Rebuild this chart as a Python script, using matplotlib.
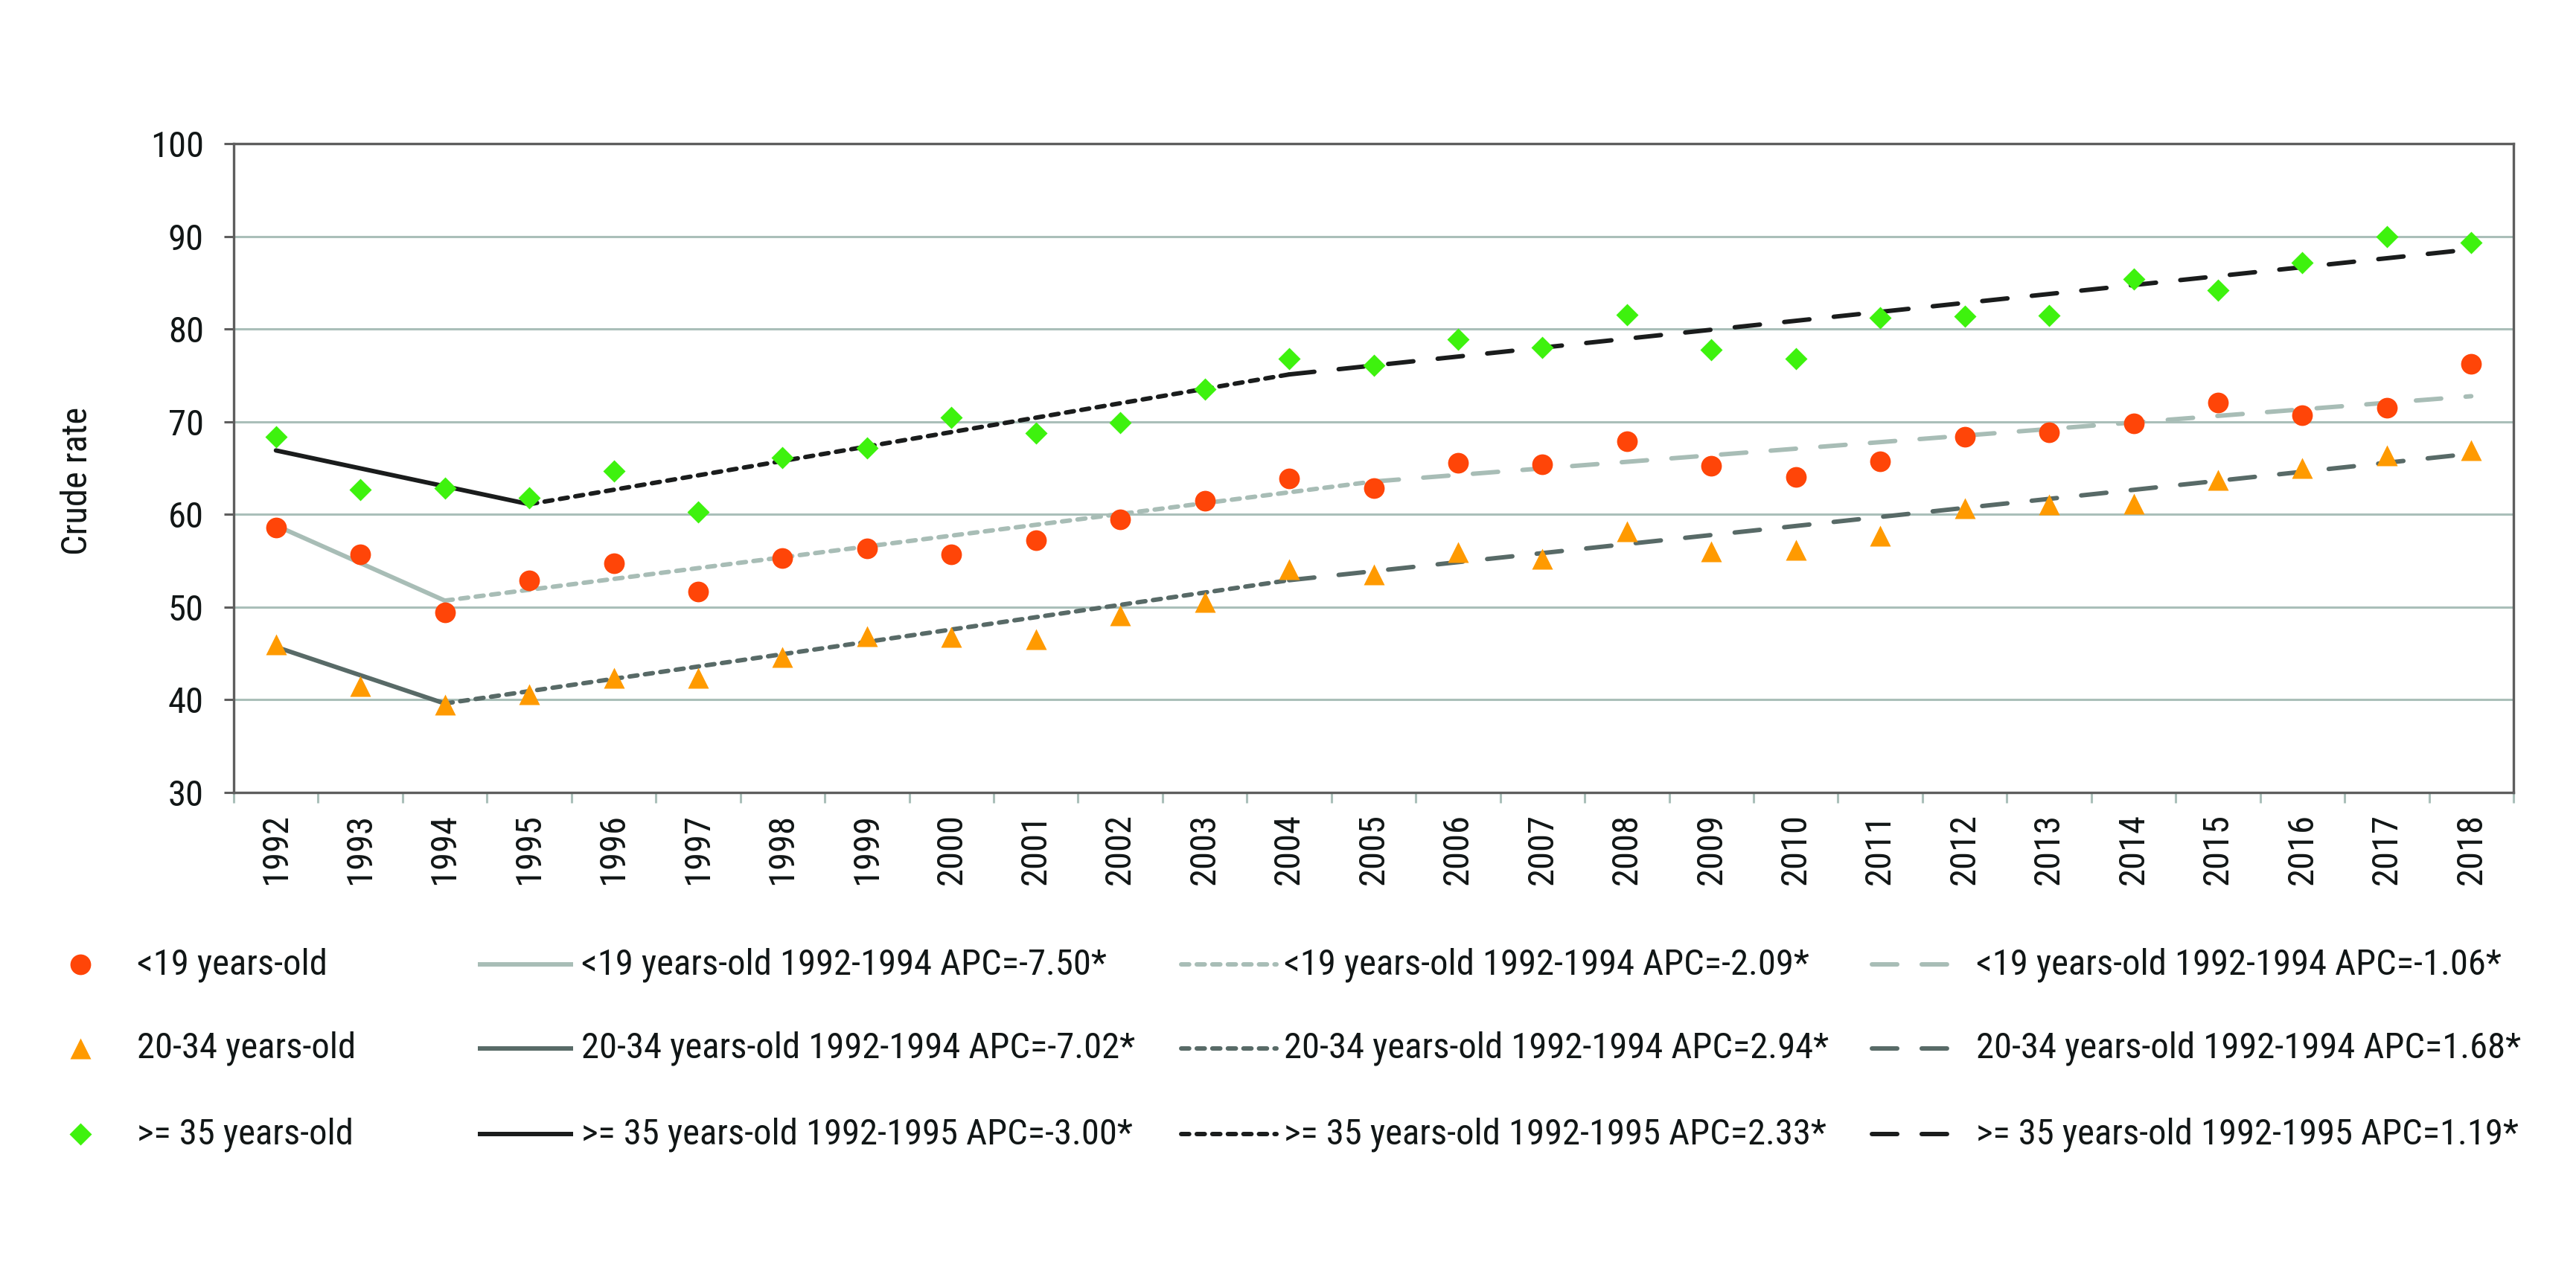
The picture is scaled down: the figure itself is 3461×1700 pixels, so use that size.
import matplotlib
matplotlib.use("Agg")
import matplotlib.pyplot as plt
from matplotlib import font_manager
from matplotlib.lines import Line2D
from matplotlib.ticker import MultipleLocator, FixedLocator

# ---------------- data ----------------
years = list(range(1992, 2019))
rate_lt19 = [58.6, 55.7, 49.4, 52.9, 54.7, 51.7, 55.3, 56.3, 55.7, 57.2, 59.45, 61.5, 63.9, 62.85,
             65.6, 65.4, 67.9, 65.25, 64.0, 65.7, 68.4, 68.85, 69.8, 72.1, 70.7, 71.5, 76.2]
rate_20_34 = [46.0, 41.45, 39.5, 40.6, 42.35, 42.35, 44.6, 46.85, 46.8, 46.55, 49.1, 50.55, 54.1, 53.5,
              55.9, 55.2, 58.2, 56.0, 56.2, 57.7, 60.7, 61.05, 61.15, 63.7, 65.0, 66.4, 66.9]
rate_ge35 = [68.4, 62.65, 62.8, 61.75, 64.7, 60.3, 66.1, 67.2, 70.45, 68.8, 69.9, 73.5, 76.8, 76.1,
             78.9, 78.0, 81.55, 77.8, 76.8, 81.2, 81.4, 81.45, 85.4, 84.2, 87.15, 90.0, 89.3]

# joinpoint trend segments: joinpoint years and fitted values
trend_lt19_years = [1992, 1994, 2005, 2018]
trend_lt19_vals = [58.8, 50.7, 63.55, 72.75]
trend_20_34_years = [1992, 1994, 2004, 2018]
trend_20_34_vals = [45.7, 39.6, 52.9, 66.55]
trend_ge35_years = [1992, 1995, 2004, 2018]
trend_ge35_vals = [66.9, 61.1, 75.1, 88.6]

series_labels = ["<19 years-old", "20-34 years-old", ">= 35 years-old"]
trend_labels = [
    ["<19 years-old 1992-1994 APC=-7.50*", "<19 years-old 1992-1994 APC=-2.09*", "<19 years-old 1992-1994 APC=-1.06*"],
    ["20-34 years-old 1992-1994 APC=-7.02*", "20-34 years-old 1992-1994 APC=2.94*", "20-34 years-old 1992-1994 APC=1.68*"],
    [">= 35 years-old 1992-1995 APC=-3.00*", ">= 35 years-old 1992-1995 APC=2.33*", ">= 35 years-old 1992-1995 APC=1.19*"],
]
y_ticks = [30, 40, 50, 60, 70, 80, 90, 100]
y_label = "Crude rate"

# ---------------- style ----------------
names = {f.name for f in font_manager.fontManager.ttflist}
if "Liberation Sans Narrow" in names:
    FAM = ["Liberation Sans Narrow", "DejaVu Sans"]
elif "Roboto Condensed" in names:
    FAM = ["Roboto Condensed", "DejaVu Sans"]
else:
    FAM = ["Liberation Sans", "DejaVu Sans"]
plt.rcParams["font.family"] = FAM

TXT = "#111616"
FS = 35
SPINE = "#5E5E5E"
GRID = "#AABFB9"
C_RED = "#FF4508"
C_ORANGE = "#FF9A00"
C_GREEN = "#3EF20E"
L_LT19 = "#A8BDB6"
L_2034 = "#586A67"
L_GE35 = "#1A1C1C"
LW = 4.3
DOTTED = (0, (1.8, 1.7))
DASHED = (0, (5.7, 5.5))

W, H = 3461, 1700
fig = plt.figure(figsize=(W / 100, H / 100), dpi=100)
fig.patch.set_facecolor("white")

L, R, T, B = 314, 3377, 193, 1065
ax = fig.add_axes([L / W, 1 - B / H, (R - L) / W, (B - T) / H])

ax.set_xlim(years[0] - 0.5, years[-1] + 0.5)
ax.set_ylim(30, 100)

# trend lines
trends = [
    (trend_lt19_years, trend_lt19_vals, L_LT19),
    (trend_20_34_years, trend_20_34_vals, L_2034),
    (trend_ge35_years, trend_ge35_vals, L_GE35),
]
styles = ["-", DOTTED, DASHED]
for ty, tv, col in trends:
    for k in range(3):
        ax.plot(ty[k:k + 2], tv[k:k + 2], color=col, lw=LW, linestyle=styles[k],
                solid_capstyle="round", dash_capstyle="round", zorder=3)

# markers
ax.plot(years, rate_lt19, linestyle="none", marker="o", ms=20, color=C_RED, mec="none", zorder=4)
ax.plot(years, rate_20_34, linestyle="none", marker="^", ms=20.5, color=C_ORANGE, mec="none", zorder=4)
ax.plot(years, rate_ge35, linestyle="none", marker="D", ms=14.8, color=C_GREEN, mec="none", zorder=4)

# axes styling
for s in ax.spines.values():
    s.set_color(SPINE)
    s.set_linewidth(2.4)
    s.set_zorder(5)
ax.set_axisbelow(True)
ax.yaxis.set_major_locator(FixedLocator(y_ticks))
ax.yaxis.grid(True, color=GRID, lw=2.2)
ax.tick_params(axis="y", length=9.4, width=2.2, color=SPINE, pad=19.4, labelsize=FS, labelcolor=TXT)

ax.set_xticks(years)
ax.set_xticklabels([str(y) for y in years], rotation=90)
ax.xaxis.set_minor_locator(MultipleLocator(1, offset=0.5))
ax.tick_params(axis="x", which="major", length=0, pad=20, labelsize=FS, labelcolor=TXT)
ax.tick_params(axis="x", which="minor", length=10, width=2.2, color=GRID, direction="out")

ax.set_ylabel(y_label, fontsize=FS, color=TXT)
ax.yaxis.label.set_va("center")
ax.yaxis.set_label_coords(-0.0686, 0.48)

# ---------------- legend (manual, 3 rows x 4 columns) ----------------
def fx(px):
    return px / W

def fy(py):
    return 1 - py / H

row_handle_y = [1296, 1409, 1524]
row_text_y = [1309, 1422, 1537]
marker_specs = [("o", 20, C_RED), ("^", 20.5, C_ORANGE), ("D", 14.8, C_GREEN)]
line_cols = [L_LT19, L_2034, L_GE35]
cols = [  # (handle x0, handle x1, text x)
    (642, 770, 781),
    (1587, 1715, 1725),
    (2515, 2627, 2655),
]
for r in range(3):
    m, ms, c = marker_specs[r]
    fig.add_artist(Line2D([fx(108)], [fy(row_handle_y[r])], transform=fig.transFigure,
                          marker=m, ms=ms, color=c, mec="none", linestyle="none"))
    fig.text(fx(184), fy(row_text_y[r]), series_labels[r], fontsize=FS, color=TXT,
             ha="left", va="baseline")
    for k in range(3):
        x0, x1, xt = cols[k]
        fig.add_artist(Line2D([fx(x0), fx(x1)], [fy(row_handle_y[r])] * 2, transform=fig.transFigure,
                              color=line_cols[r], lw=LW, linestyle=styles[k],
                              solid_capstyle="butt", dash_capstyle="round"))
        fig.text(fx(xt), fy(row_text_y[r]), trend_labels[r][k], fontsize=FS, color=TXT,
                 ha="left", va="baseline")

fig.savefig("out.png", dpi=100, facecolor="white")
